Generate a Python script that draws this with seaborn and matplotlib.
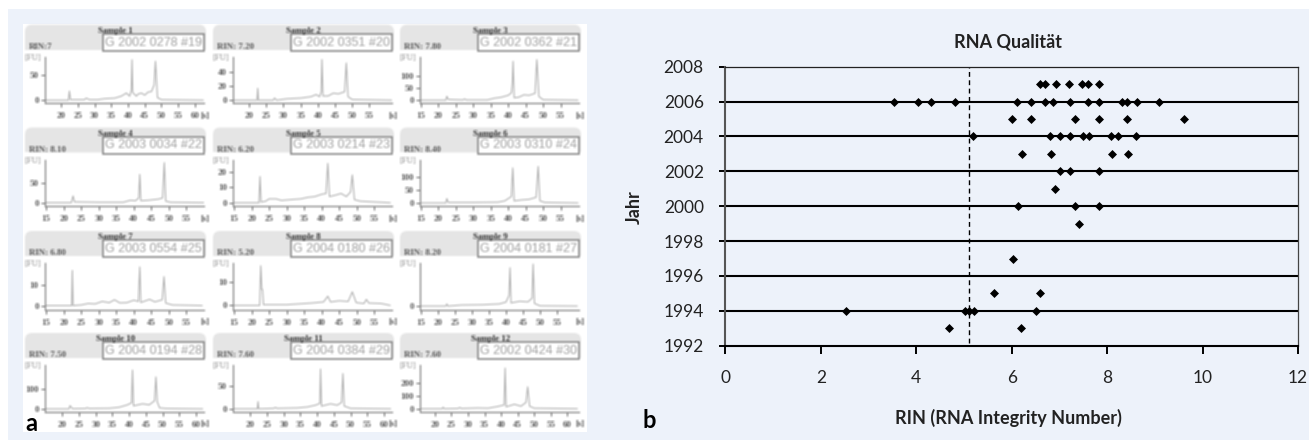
import numpy as np
import pandas as pd
import matplotlib
matplotlib.use("Agg")
import matplotlib.pyplot as plt
from matplotlib.patches import Rectangle, FancyBboxPatch
import seaborn as sns

# Panel b: RIN per year
years = [2007, 2006, 2005, 2004, 2003, 2002, 2001, 2000, 1999, 1997, 1995, 1994, 1993]
rin_2007 = [6.59, 6.70, 6.92, 7.21, 7.47, 7.59, 7.84]
rin_2006 = [3.53, 4.03, 4.32, 4.82, 6.12, 6.41, 6.70, 6.87, 7.22, 7.61, 7.82, 8.31, 8.42, 8.63, 9.09]
rin_2005 = [6.00, 6.41, 7.33, 7.82, 8.42, 9.61]
rin_2004 = [5.20, 6.80, 7.02, 7.22, 7.50, 7.63, 8.09, 8.23, 8.60]
rin_2003 = [6.22, 6.83, 8.10, 8.43]
rin_2002 = [7.01, 7.22, 7.82]
rin_2001 = [6.91]
rin_2000 = [6.13, 7.33, 7.83]
rin_1999 = [7.41]
rin_1997 = [6.02]
rin_1995 = [5.62, 6.60]
rin_1994 = [2.52, 5.02, 5.11, 5.21, 6.50]
rin_1993 = [4.69, 6.20]
rin_limit = 5.11
year_ticks = list(range(1992, 2009, 2))
rin_ticks = list(range(0, 13, 2))

# Panel a: electropherograms
sample_titles = ["Sample %d" % i for i in range(1, 13)]
rin_labels = ["RIN:7", "RIN: 7.20", "RIN: 7.80", "RIN: 8.10", "RIN: 6.20", "RIN: 8.40",
              "RIN: 6.80", "RIN: 5.20", "RIN: 8.20", "RIN: 7.50", "RIN: 7.60", "RIN: 7.60"]
sample_ids = ["G 2002 0278 #19", "G 2002 0351 #20", "G 2002 0362 #21",
              "G 2003 0034 #22", "G 2003 0214 #23", "G 2003 0310 #24",
              "G 2003 0554 #25", "G 2004 0180 #26", "G 2004 0181 #27",
              "G 2004 0194 #28", "G 2004 0384 #29", "G 2002 0424 #30"]
x_limits = [(15.2, 62.7), (15.3, 61.6), (14.7, 60.3), (14.7, 60), (14.7, 60), (14.7, 60.3),
            (14.7, 60), (14.7, 60), (14.7, 61.5), (14.8, 62.4), (14.8, 62.4), (15.5, 63.5)]
y_limits = [(-6, 86), (-4.3, 62), (-12.5, 179), (-8.5, 110), (-2.1, 28), (-12, 170),
            (-1.9, 20.6), (-1.8, 18.5), (-13, 163), (-13, 217), (-6, 97), (-22, 346)]
y_ticks = [[0, 50], [0, 20, 40], [0, 50, 100], [0, 50], [0, 10, 20], [0, 50, 100],
           [0, 10], [0, 10], [0], [0, 100], [0, 50], [0, 100, 200]]
x_ticks_a = [20, 25, 30, 35, 40, 45, 50, 55, 60]
x_ticks_b = [15, 20, 25, 30, 35, 40, 45, 50, 55]
x_ticks = [x_ticks_a, x_ticks_a[:-1], x_ticks_b, x_ticks_b, x_ticks_b, x_ticks_b,
           x_ticks_b, x_ticks_b, x_ticks_b, x_ticks_a, x_ticks_a, x_ticks_a]

s1_t = [15.2, 22.2, 22.5, 22.8, 27, 27.5, 28.5, 31, 33, 36, 38, 39.5, 40.5, 41, 41.2, 41.4, 42.5, 43, 44, 45, 46, 47, 47.8, 48.2, 48.8, 50, 62.5]
s1_f = [0, 0, 18, 1, 1, 4, 1, 1, 3, 4, 8, 14, 8, 20, 80, 15, 8, 12, 14, 10, 16, 17, 30, 77, 5, 1, 0]
s2_t = [15.3, 22.3, 22.5, 22.7, 27, 27.4, 28, 31, 35, 38, 39.5, 40.5, 41, 41.2, 41.5, 43, 44.5, 46, 47.8, 48.3, 48.8, 50, 61.5]
s2_f = [0, 0, 17, 0, 0, 3, 0, 2, 3, 5, 8, 5, 12, 58, 6, 6, 10, 9, 12, 53, 5, 1, 0]
s3_t = [14.7, 22.1, 22.4, 22.8, 27, 27.5, 28, 34, 36, 38, 40, 40.9, 41.2, 41.4, 41.7, 43, 44.5, 46, 47.7, 48.2, 48.8, 50, 60]
s3_f = [0, 0, 16, 3, 1, 5, 1, 1, 8, 12, 20, 30, 70, 160, 10, 12, 22, 20, 28, 167, 15, 2, 0]
s4_t = [14.7, 22.2, 22.7, 23.1, 30, 37, 39, 40.5, 41.4, 41.7, 42, 44, 47, 48.2, 48.7, 49.1, 50.5, 60]
s4_f = [0, 0, 17, 2, 1, 1, 6, 5, 12, 72, 5, 6, 9, 12, 102, 4, 1, 0]
s5_t = [14.7, 22.1, 22.4, 22.7, 24, 25, 27, 28.5, 31, 34, 36, 38, 40, 41.2, 41.7, 42.2, 44, 45.5, 47, 48.2, 48.7, 49.3, 51, 59.5]
s5_f = [0, 0, 17, 0.5, 1, 2.5, 2.5, 1.5, 2, 2.5, 3.5, 4, 5.5, 6, 25.5, 4, 5, 6, 4, 7, 18, 2, 1, 0]
s6_t = [14.7, 22.1, 22.4, 22.8, 30, 37, 39, 40.9, 41.3, 41.7, 44, 46, 48, 48.6, 49.1, 50.5, 60]
s6_f = [0, 0, 17, 2, 2, 3, 8, 25, 137, 8, 12, 14, 22, 143, 8, 2, 0]
s7_t = [14.7, 22.3, 22.5, 22.7, 25, 27, 29, 31, 33, 34.5, 36, 38, 40, 41.3, 41.7, 42, 44.5, 46, 48.1, 48.6, 49.1, 51, 59.5]
s7_f = [0, 0, 17, 0, 0.3, 1, 0.8, 2, 1.4, 2.8, 1.3, 1.4, 2.6, 2, 18.7, 1.5, 3, 1.8, 2.8, 14, 1.2, 0.3, 0]
s8_t = [14.7, 22.3, 22.6, 22.9, 23.1, 23.4, 30, 37, 40.5, 41.7, 42.5, 45, 47.5, 48.7, 49.8, 52, 52.7, 53.4, 57, 59.5]
s8_f = [0, 0, 17.3, 7, 7, 0.3, 0.3, 1, 1.5, 4, 1.5, 2, 1.7, 5.9, 1.2, 0.8, 2.6, 1, 0.8, 0]
s9_t = [14.7, 22.3, 22.6, 22.9, 27, 33, 38, 40, 40.9, 41.2, 41.5, 44, 46.5, 47.7, 48, 48.4, 50, 61]
s9_f = [0, 0, 8, 0, 4, 5, 8, 15, 40, 145, 12, 18, 16, 30, 159, 10, 1, 0]
s10_t = [14.8, 22, 22.3, 23, 27, 27.4, 28, 34, 37, 39.5, 40.7, 41, 41.3, 44, 46, 47.6, 48, 48.4, 49.1, 51, 62]
s10_f = [0, 0, 16, 1, 2, 6, 2, 3, 8, 20, 30, 192, 15, 25, 20, 40, 158, 35, 5, 2, 0]
s11_t = [14.8, 22.1, 22.3, 22.5, 27, 27.5, 28, 34, 37, 39.5, 40.8, 41, 41.3, 44, 46, 47.3, 47.7, 48.1, 50, 62]
s11_f = [0, 0, 16, 0, 1, 3, 1, 2, 4, 8, 12, 88, 6, 11, 8, 14, 78, 6, 1, 0]
s12_t = [15.5, 22.2, 22.5, 22.8, 27, 27.5, 28, 33, 36, 39, 40.9, 41.2, 41.5, 44, 46, 47.5, 48, 48.6, 50, 63]
s12_f = [0, 0, 12, 0, 2, 10, 2, 6, 4, 18, 30, 322, 15, 35, 20, 50, 173, 20, 4, 0]
trace_t = [s1_t, s2_t, s3_t, s4_t, s5_t, s6_t, s7_t, s8_t, s9_t, s10_t, s11_t, s12_t]
trace_f = [s1_f, s2_f, s3_f, s4_f, s5_f, s6_f, s7_f, s8_f, s9_f, s10_f, s11_f, s12_f]

W, H = 1309, 440
BG = "#EDF2FA"
col_left = [25, 213, 400]
row_top = [24.7, 127.5, 231, 333]


def px_axes(fig, left, top, right, bottom, **kw):
    return fig.add_axes([left / W, 1 - bottom / H, (right - left) / W, (bottom - top) / H], **kw)


# the left panel is a blurry scan, soften it a little
def soft(img, dpi):
    pad = 3
    img = np.pad(img, ((pad, pad), (pad, pad), (0, 0)))
    alpha = img[..., 3:]
    out = np.dstack([img[..., :3] * alpha, alpha])
    for axis in (0, 1):
        out = (np.roll(out, 1, axis) + 1.4 * out + np.roll(out, -1, axis)) / 3.4
    rgb = out[..., :3] / np.maximum(out[..., 3:], 1e-4)
    return np.clip(np.dstack([rgb, out[..., 3:]]), 0, 1), -pad, -pad


sns.set_style("white")
plt.rcParams["font.family"] = ["Lato", "DejaVu Sans"]
fig = plt.figure(figsize=(W / 100, H / 100), dpi=100, facecolor="white")

# backgrounds
back = px_axes(fig, 0, 0, W, H)
back.set_xlim(0, W)
back.set_ylim(H, 0)
back.axis("off")
back.add_patch(Rectangle((8, 9), W - 8, H - 9, fc=BG, ec="none"))
back.add_patch(Rectangle((23, 24), 564, 408, fc="white", ec="none"))

# headers of panel a
heads = px_axes(fig, 0, 0, W, H)
heads.set_xlim(0, W)
heads.set_ylim(H, 0)
heads.axis("off")
heads.patch.set_visible(False)
heads.set_agg_filter(soft)
for i in range(12):
    x0 = col_left[i % 3]
    y0 = row_top[i // 3]
    heads.add_patch(FancyBboxPatch((x0 + 7, y0 + 7), 167, 11, boxstyle="round,pad=7,rounding_size=7",
                                   fc="#E6E6E6", ec="none"))
    heads.add_patch(Rectangle((x0, y0 + 16), 181, 9, fc="#E6E6E6", ec="none"))
    heads.add_patch(Rectangle((x0 + 78, y0 + 9.5), 101, 17, fc="white", ec="#808080", lw=1.1))
    heads.text(x0 + 90.5, y0 + 6, sample_titles[i], ha="center", va="center", fontsize=6.4,
               fontweight="bold", family="Liberation Serif", color="#333333")
    heads.text(x0 + 4, y0 + 22, rin_labels[i], ha="left", va="center", fontsize=6.4,
               fontweight="bold", family="Liberation Serif", color="#555555")
    heads.text(x0 + 128.5, y0 + 18, sample_ids[i], ha="center", va="center", fontsize=9,
               family="Liberation Sans", color="#A0A0A0")
    heads.text(x0 - 0.5, y0 + 33, "[FU]", ha="left", va="center", fontsize=6.2,
               family="Liberation Serif", color="#888888")
    heads.text(x0 + 179.5, y0 + 91, "[s]", ha="center", va="center", fontsize=6.2,
               fontweight="bold", family="Liberation Serif", color="#555555")

# traces of panel a
for i in range(12):
    x0 = col_left[i % 3]
    y0 = row_top[i // 3]
    ax = px_axes(fig, x0 + 20, y0 + 32, x0 + 179, y0 + 78.5)
    ax.patch.set_visible(False)
    sns.lineplot(x=trace_t[i], y=trace_f[i], ax=ax, estimator=None, sort=False, color="#ABABAB", lw=0.75)
    ax.set_xlim(*x_limits[i])
    ax.set_ylim(*y_limits[i])
    ax.set_xticks(x_ticks[i])
    ax.set_yticks(y_ticks[i])
    ax.tick_params(axis="both", length=3, width=0.8, color="#666666", labelcolor="#555555",
                   labelsize=6.4, pad=3.5, bottom=True, left=True)
    ax.tick_params(axis="y", pad=1.5)
    for lab in ax.get_xticklabels() + ax.get_yticklabels():
        lab.set_family("Liberation Serif")
        lab.set_fontweight("bold")
    sns.despine(ax=ax)
    for side in ("left", "bottom"):
        ax.spines[side].set_color("#808080")
        ax.spines[side].set_linewidth(0.9)
    ax.set_agg_filter(soft)

fig.text(25 / W, 1 - 423 / H, "a", fontsize=17, fontweight="bold", ha="left", va="center", color="black")
fig.text(642 / W, 1 - 420 / H, "b", fontsize=17, fontweight="bold", ha="left", va="center", color="black")

# panel b
ax = px_axes(fig, 725.3, 66.7, 1298, 345.7)
ax.set_facecolor("none")
rin_lists = [rin_2007, rin_2006, rin_2005, rin_2004, rin_2003, rin_2002, rin_2001,
             rin_2000, rin_1999, rin_1997, rin_1995, rin_1994, rin_1993]
points = pd.DataFrame({
    "Jahr": [y for y, vals in zip(years, rin_lists) for _ in vals],
    "RIN": [v for vals in rin_lists for v in vals],
})
for y in year_ticks[1:-1]:
    ax.axhline(y, color="black", lw=1.5, zorder=1)
ax.axvline(rin_limit, ymin=0.011, color="black", lw=1, ls=(0, (3.5, 2.5)), zorder=1)
sns.scatterplot(data=points, x="RIN", y="Jahr", ax=ax, marker="D", s=21, color="black", linewidth=0, zorder=3)
ax.set_xlim(0, 12)
ax.set_ylim(1992, 2008)
ax.set_xticks(rin_ticks)
ax.set_yticks(year_ticks)
ax.tick_params(axis="x", length=6, width=1.4, color="black", labelsize=12.5, pad=11.5, labelcolor="#222222", bottom=True)
ax.tick_params(axis="y", length=4.5, width=1.4, color="black", labelsize=12.5, pad=11, labelcolor="#222222", left=True)
for side, col, lw in (("left", "#555555", 1.5), ("right", "#444444", 0.9), ("top", "#222222", 0.9), ("bottom", "black", 1.5)):
    ax.spines[side].set_visible(True)
    ax.spines[side].set_color(col)
    ax.spines[side].set_linewidth(lw)
ax.set_xlabel("")
ax.set_ylabel("")
fig.text(1008.5 / W, 1 - 41.5 / H, "RNA Qualität", fontsize=13, fontweight="bold", ha="center", va="center", color="#222222")
fig.text(1008.5 / W, 1 - 418 / H, "RIN (RNA Integrity Number)", fontsize=13, fontweight="bold", ha="center", va="center", color="#222222")
fig.text(634 / W, 1 - 207 / H, "Jahr", fontsize=13, fontweight="bold", rotation=90, ha="center", va="center", color="#222222")

fig.savefig("out.png", dpi=100, facecolor="white")
